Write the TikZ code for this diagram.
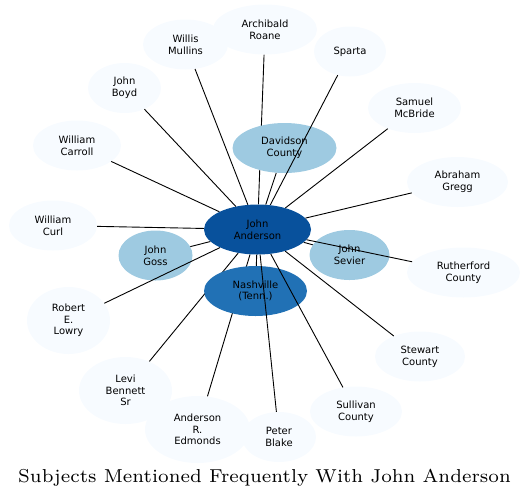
\documentclass[tikz,border=0pt]{standalone}
\usepackage{fontspec}
\usepackage{tikz}
\usetikzlibrary{shapes.geometric, backgrounds}
\newfontfamily\labelfont{DejaVu Sans}
\newfontfamily\titlefont{lmroman7-regular.otf}
\newcommand\titlestyle{\titlefont\fontsize{18.7}{22}\selectfont}
\definecolor{blue0}{HTML}{F7FBFF}
\definecolor{blue1}{HTML}{9ECAE1}
\definecolor{blue2}{HTML}{2171B5}
\definecolor{blue3}{HTML}{08519C}

\begin{document}
\begin{tikzpicture}[x=1pt,y=-1pt,
    subj/.style={ellipse,fill=blue0,inner sep=0pt,align=center,minimum height=50pt,
      font=\labelfont\fontsize{10}{11.7}\selectfont},
    tall/.style={minimum height=67pt},
    link/.style={draw=black,line width=0.9pt}]
  \useasboundingbox (0,0) rectangle (529,499);

  \node[subj,minimum width=85pt] (wm) at (185.5,44.5) {Willis\\Mullins};
  \node[subj,minimum width=104pt] (ar) at (265,29.5) {Archibald\\Roane};
  \node[subj,minimum width=72pt] (sp) at (350,51.5) {Sparta};
  \node[subj,minimum width=73pt] (jb) at (124.5,88) {John\\Boyd};
  \node[subj,minimum width=93pt] (sm) at (414.5,108) {Samuel\\McBride};
  \node[subj,minimum width=88pt] (wca) at (77,145.5) {William\\Carroll};
  \node[subj,minimum width=88pt] (wcu) at (53,225.5) {William\\Curl};
  \node[subj,minimum width=101pt] (ag) at (457.5,182) {Abraham\\Gregg};
  \node[subj,minimum width=113pt] (rc) at (463.5,272.5) {Rutherford\\County};
  \node[subj,tall,minimum width=83pt] (rl) at (68.5,320.5) {Robert\\E.\\Lowry};
  \node[subj,tall,minimum width=93pt] (lb) at (125.5,390.5) {Levi\\Bennett\\Sr};
  \node[subj,tall,minimum width=105pt] (ae) at (197.5,429.5) {Anderson\\R.\\Edmonds};
  \node[subj,minimum width=74pt] (pb) at (279,437) {Peter\\Blake};
  \node[subj,minimum width=92pt] (sc) at (356,411.5) {Sullivan\\County};
  \node[subj,minimum width=90pt] (stc) at (420,356.5) {Stewart\\County};

  \node[subj,fill=blue1,minimum width=104pt] (dc) at (284.5,148) {Davidson\\County};
  \node[subj,fill=blue2,minimum width=103pt] (na) at (255.5,291) {Nashville\\(Tenn.)};
  \node[subj,fill=blue1,minimum width=80pt] (js) at (349.5,255) {John\\Sevier};
  \node[subj,fill=blue1,minimum width=74pt] (jg) at (155.5,255.5) {John\\Goss};
  \node[subj,fill=blue3,minimum width=107pt] (ja) at (257.5,229.5) {John\\Anderson};

  \begin{scope}[on background layer]
    \path[link] (ja) -- (ar)
                (ja) -- (lb)
                (ja) -- (ae);
  \end{scope}
  \path[link] (ja) -- (wm)
              (ja) -- (sp)
              (ja) -- (jb)
              (ja) -- (sm)
              (ja) -- (wca)
              (ja) -- (wcu)
              (ja) -- (ag)
              (ja) -- (rc)
              (ja) -- (rl)
              (ja) -- (pb)
              (ja) -- (sc)
              (ja) -- (stc)
              (ja) -- (dc)
              (ja) -- (na)
              (ja) -- (js)
              (ja) -- (jg);

  \node[font=\titlestyle,anchor=base] (title) at (264.5,482)
    {Subjects Mentioned Frequently With John Anderson};
\end{tikzpicture}
\end{document}
